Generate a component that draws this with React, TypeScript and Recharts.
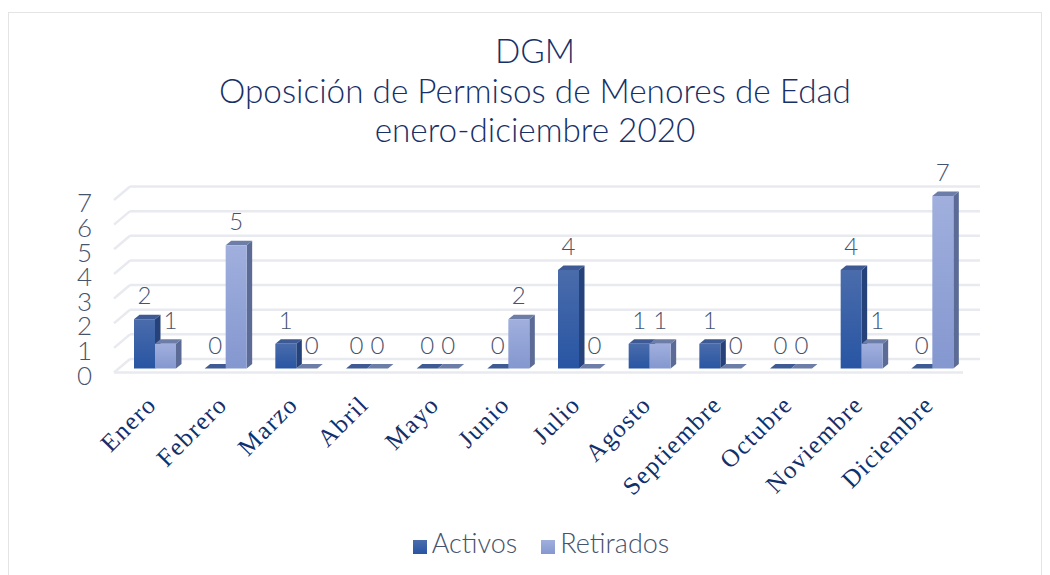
import { BarChart, Bar, XAxis, YAxis, CartesianGrid, Legend, LabelList } from "recharts";

const MONTHS = ["Enero", "Febrero", "Marzo", "Abril", "Mayo", "Junio", "Julio", "Agosto", "Septiembre", "Octubre", "Noviembre", "Diciembre"];
const ACTIVOS = [2, 0, 1, 0, 0, 0, 4, 1, 1, 0, 4, 0];
const RETIRADOS = [1, 5, 0, 0, 0, 2, 0, 1, 0, 0, 1, 7];
const Y_TICKS = [0, 1, 2, 3, 4, 5, 6, 7];
const TITLE_LINES = ["DGM", "Oposición de Permisos de Menores de Edad", "enero-diciembre 2020"];

const data = MONTHS.map((month, i) => ({ month, activos: ACTIVOS[i], retirados: RETIRADOS[i] }));

const FONT = "Lato, sans-serif";
const TITLE = "#173068";
const TEXT = "#45536d";
const GRID = "#e8eaf0";
const DEPTH_X = 5.5;
const DEPTH_Y = 4.5;

function Bar3D({ x, y, width, height, fill, side, top }: any) {
  const r = x + width;
  const b = y + height;
  return (
    <g>
      <polygon points={`${r},${y} ${r + DEPTH_X},${y - DEPTH_Y} ${r + DEPTH_X},${b - DEPTH_Y} ${r},${b}`} fill={side} />
      <polygon points={`${x},${y} ${x + DEPTH_X},${y - DEPTH_Y} ${r + DEPTH_X},${y - DEPTH_Y} ${r},${y}`} fill={top} />
      {height > 0 && <rect x={x} y={y} width={width} height={height} fill={fill} />}
    </g>
  );
}

// back wall line, left wall diagonal, and the floor edge for the zero line
function GridLine({ x1, x2, y1 }: any) {
  const backX = x1 + 10;
  return (
    <g stroke={GRID} strokeWidth={2.5} fill="none">
      <line x1={backX} x2={x2 + 12} y1={y1 - 9.5} y2={y1 - 9.5} />
      <line x1={x1 - 6} x2={backX} y1={y1 + 4} y2={y1 - 9.5} />
      {y1 > 360 && <line x1={x1 - 6} x2={x2 - 5} y1={y1 + 4} y2={y1 + 4} />}
    </g>
  );
}

function valueLabel(nudge: boolean) {
  return ({ x, y, width, value, index }: any) => {
    const dx = nudge && RETIRADOS[index] < ACTIVOS[index] ? 5 : 0;
    return (
      <text x={x + width / 2 + dx} y={y - 15} textAnchor="middle" fontFamily={FONT} fontWeight={300} fontSize={24} fill={TEXT}>
        {value}
      </text>
    );
  };
}

export default function App() {
  return (
    <div style={{ position: "absolute", left: 0, top: 0, width: 1050, height: 575, overflow: "hidden", background: "#fff" }}>
      <div style={{ position: "absolute", left: 8, top: 12, width: 1032, height: 580, border: "1px solid #e4e4e4" }} />
      <BarChart
        width={1050}
        height={575}
        data={data}
        barGap={0}
        barSize={21}
        margin={{ top: 196, right: 82, left: 0, bottom: 18 }}
        style={{ position: "absolute", left: 0, top: 0 }}
      >
        <defs>
          <linearGradient id="gradActivos" x1="0" y1="0" x2="0" y2="1">
            <stop offset="0%" stopColor="#4a6cab" />
            <stop offset="100%" stopColor="#2855a3" />
          </linearGradient>
          <linearGradient id="gradRetirados" x1="0" y1="0" x2="0" y2="1">
            <stop offset="0%" stopColor="#a0afdd" />
            <stop offset="100%" stopColor="#8497cf" />
          </linearGradient>
        </defs>
        {TITLE_LINES.map((line, i) => (
          <text key={line} x={535} y={63 + i * 39.5} textAnchor="middle" fontFamily={FONT} fontWeight={300} fontSize={33.3} fill={TITLE}>
            {line}
          </text>
        ))}
        <CartesianGrid vertical={false} horizontal={(p: any) => <GridLine key={p.key} {...p} />} />
        <XAxis
          dataKey="month"
          interval={0}
          height={155.5}
          axisLine={false}
          tickLine={false}
          tick={{ angle: -45, textAnchor: "end", fontFamily: "'Liberation Serif', serif", fontSize: 25, letterSpacing: 1.4, fill: "#12306c", dx: -10, dy: 17 }}
        />
        <YAxis
          width={120}
          domain={[0, 7]}
          ticks={Y_TICKS}
          interval={0}
          axisLine={false}
          tickLine={false}
          tick={{ fontFamily: FONT, fontWeight: 300, fontSize: 26, fill: TEXT, dx: -20, dy: 7 }}
        />
        <Legend
          verticalAlign="bottom"
          iconType="square"
          iconSize={14}
          wrapperStyle={{ left: 21, width: 1050 }}
          formatter={(value: string, _e: any, i: number) => (
            <span style={{ position: "relative", top: 2, fontFamily: FONT, fontWeight: 300, fontSize: 27, color: TEXT, marginLeft: 1, paddingRight: i === 0 ? 14 : 0 }}>{value}</span>
          )}
        />
        <Bar
          dataKey="activos"
          name="Activos"
          fill="url(#gradActivos)"
          isAnimationActive={false}
          shape={(p: any) => <Bar3D {...p} side="#25427a" top="#3d5a94" />}
        >
          <LabelList dataKey="activos" content={valueLabel(false)} />
        </Bar>
        <Bar
          dataKey="retirados"
          name="Retirados"
          fill="url(#gradRetirados)"
          isAnimationActive={false}
          shape={(p: any) => <Bar3D {...p} side="#5b6b96" top="#6c7da8" />}
        >
          <LabelList dataKey="retirados" content={valueLabel(true)} />
        </Bar>
      </BarChart>
    </div>
  );
}
